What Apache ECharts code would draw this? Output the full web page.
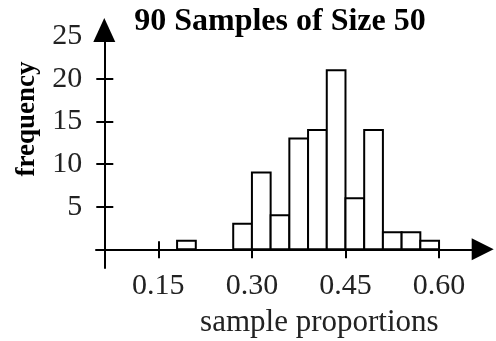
<!DOCTYPE html>
<html>
<head>
<meta charset="utf-8">
<script src="https://cdn.jsdelivr.net/npm/echarts@6/dist/echarts.min.js"></script>
<style>
  html, body { margin: 0; padding: 0; background: #fff; }
  #chart { width: 496px; height: 341px; }
</style>
</head>
<body>
<div id="chart"></div>
<script>
// Histogram of sample proportions: bin edges and counts
const binStart  = [0.18, 0.27, 0.30, 0.33, 0.36, 0.39, 0.42, 0.45, 0.48, 0.51, 0.54, 0.57];
const binEnd    = [0.21, 0.30, 0.33, 0.36, 0.39, 0.42, 0.45, 0.48, 0.51, 0.54, 0.57, 0.60];
const frequency = [1, 3, 9, 4, 13, 14, 21, 6, 14, 2, 2, 1];

// Axis ticks and labels
const xTicks  = [0.15, 0.30, 0.45, 0.60];
const yTicks  = [5, 10, 15, 20];
const yLabels = [5, 10, 15, 20, 25];

const FONT = '"Liberation Serif", "DejaVu Serif", serif';
const X_MIN = 0.05, X_MAX = 0.67;
const Y_MIN = -2.2, Y_MAX = 25.7;

const bins = binStart.map((s, i) => [s, binEnd[i], frequency[i]]);

const chart = echarts.init(document.getElementById('chart'), null, { renderer: 'canvas' });

const lineStyle = { color: '#000', width: 2 };

chart.setOption({
  animation: false,
  backgroundColor: '#fff',
  title: {
    text: '90 Samples of Size 50',
    left: 275, top: 1, textAlign: 'center',
    textStyle: { fontFamily: FONT, fontWeight: 'bold', fontSize: 32, color: '#000' }
  },
  grid: { left: 96, right: 13.3, top: 30.1, bottom: 72.9, containLabel: false, outerBoundsMode: 'none' },
  xAxis: [{
    type: 'value', min: X_MIN, max: X_MAX, position: 'bottom',
    axisLine: { show: true, onZero: true, symbol: ['none', 'triangle'], symbolSize: [22, 22], lineStyle },
    axisTick: { show: true, length: 9, inside: false, customValues: xTicks, lineStyle },
    axisLabel: {
      show: true, customValues: xTicks, margin: 3,
      formatter: v => v.toFixed(2),
      fontFamily: FONT, fontSize: 30, color: '#222'
    },
    splitLine: { show: false },
    name: 'sample proportions', nameLocation: 'middle', nameGap: 39,
    nameTextStyle: { fontFamily: FONT, fontSize: 31, color: '#222', padding: [0, 0, 0, 60] }
  }, {
    // short upward mark at 0.15
    type: 'value', min: X_MIN, max: X_MAX, position: 'bottom',
    axisLine: { show: false, onZero: true },
    axisTick: { show: true, length: 8, inside: true, customValues: [0.15], lineStyle },
    axisLabel: { show: false },
    splitLine: { show: false }
  }],
  yAxis: [{
    type: 'value', min: Y_MIN, max: Y_MAX, position: 'left', offset: -8.3,
    axisLine: { show: true, onZero: false, symbol: ['none', 'triangle'], symbolSize: [22, 24], lineStyle },
    axisTick: { show: true, length: 8, inside: false, customValues: yTicks, lineStyle },
    axisLabel: {
      show: true, customValues: yLabels, margin: 22,
      fontFamily: FONT, fontSize: 30, color: '#222'
    },
    splitLine: { show: false },
    name: 'frequency', nameLocation: 'middle', nameRotate: 90, nameGap: 64,
    nameTextStyle: { fontFamily: FONT, fontWeight: 'bold', fontSize: 27, color: '#000', padding: [0, 0, 0, 60] }
  }, {
    type: 'value', min: Y_MIN, max: Y_MAX, position: 'left', offset: -8.3,
    axisLine: { show: false, onZero: false },
    axisTick: { show: true, length: 9, inside: true, customValues: yTicks, lineStyle },
    axisLabel: { show: false },
    splitLine: { show: false }
  }],
  series: [{
    type: 'custom',
    xAxisIndex: 0, yAxisIndex: 0,
    data: bins,
    renderItem: function (params, api) {
      const p0 = api.coord([api.value(0), api.value(2)]);
      const p1 = api.coord([api.value(1), 0]);
      return {
        type: 'rect',
        shape: { x: p0[0], y: p0[1], width: p1[0] - p0[0], height: p1[1] - p0[1] },
        style: { fill: '#fff', stroke: '#000', lineWidth: 2 }
      };
    },
    z: 1
  }]
});
</script>
</body>
</html>
